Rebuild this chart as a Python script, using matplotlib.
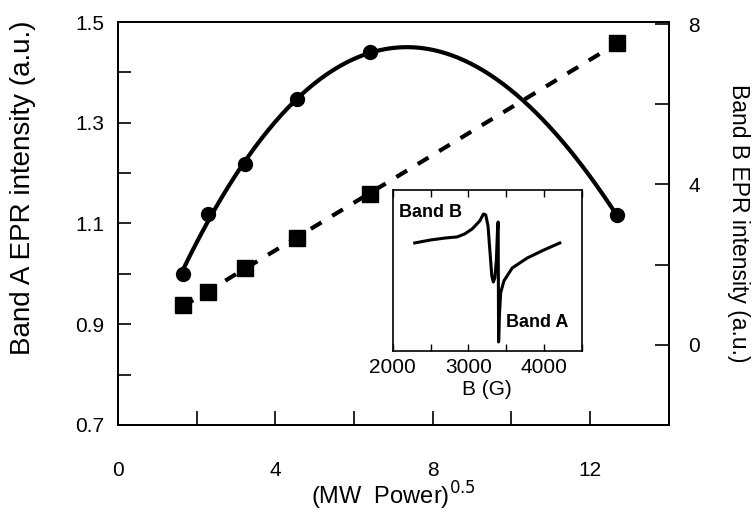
import numpy as np
import matplotlib
matplotlib.use("Agg")
import matplotlib.pyplot as plt

plt.rcParams['font.family'] = ['Liberation Sans', 'DejaVu Sans']

# data
power = [1.64, 2.3, 3.24, 4.55, 6.41, 12.68]          # (MW power)^0.5
band_a = [1.0, 1.119, 1.218, 1.347, 1.44, 1.116]      # left axis
band_b = [0.99, 1.32, 1.92, 2.67, 3.76, 7.53]         # right axis

# inset EPR spectrum (field in G, arbitrary intensity)
field = [2290, 2500, 2700, 2850, 2950, 3050, 3150, 3200, 3230, 3260, 3290,
         3310, 3330, 3350, 3370, 3385, 3394, 3400, 3410, 3427, 3470, 3580,
         3780, 4000, 4210]
signal = [10.8, 11.1, 11.3, 11.4, 11.7, 12.2, 13.0, 13.7, 13.6, 12.5, 9.5,
          7.5, 6.9, 7.3, 9.0, 12.0, 12.9, 0.9, 3.5, 5.8, 7.0, 8.3,
          9.3, 10.1, 10.8]

fig = plt.figure(figsize=(7.54, 5.12), dpi=100)
ax = fig.add_axes([0.1565, 0.170, 0.7305, 0.787])
ax2 = ax.twinx()

# smooth curve through band A points
pa = np.polyfit(power, band_a, 3)
xs = np.linspace(power[0], power[-1], 200)
ax.plot(xs, np.polyval(pa, xs), color='black', lw=3)
ax.plot(power, band_a, 'o', color='black', ms=10)

# linear fit for band B
pb = np.polyfit(power, band_b, 1)
xl = np.array([power[0], power[-1]])
ax2.plot(xl, np.polyval(pb, xl), color='black', lw=3, linestyle=(0, (3, 3)),
         dash_capstyle='butt')
ax2.plot(power, band_b, 's', color='black', ms=11)

ax.set_xlim(0, 14)
ax.set_ylim(0.7, 1.5)
ax2.set_ylim(-2, 8.05)

ax.set_xticks(np.arange(0, 15, 2))
ax.set_xticklabels(['0', '', '4', '', '8', '', '12', ''])
ax.set_yticks(np.arange(0.7, 1.51, 0.1))
ax.set_yticklabels(['0.7', '', '0.9', '', '1.1', '', '1.3', '', '1.5'])
ax2.set_yticks([-2, 0, 2, 4, 6, 8])
ax2.set_yticklabels(['', '0', '', '4', '', '8'])

ax.tick_params(axis='x', direction='in', length=10, width=1.2, pad=26,
               labelsize=15, top=False)
ax.tick_params(axis='y', direction='in', length=9, width=1.2, pad=10,
               labelsize=15)
ax2.tick_params(axis='y', direction='in', length=10, width=1.2, pad=14,
                labelsize=15)
for a in (ax, ax2):
    for s in a.spines.values():
        s.set_linewidth(1.4)

ax.set_xlabel('(MW  Power)$^{0.5}$', fontsize=17)
ax.xaxis.set_label_coords(0.5, -0.135)
ax.set_ylabel('Band A EPR intensity (a.u.)', fontsize=20)
ax.yaxis.set_label_coords(-0.148, 0.589)
ax2.set_ylabel('Band B EPR intensity (a.u.)', fontsize=16.5, rotation=-90,
               labelpad=36)

# inset
ins = fig.add_axes([0.521, 0.3145, 0.2505, 0.3145])
ins.plot(field, signal, color='black', lw=2.2)
ins.set_xlim(2000, 4500)
ins.set_ylim(0, 16.1)
ins.set_xticks([2000, 2500, 3000, 3500, 4000, 4500])
ins.set_xticklabels(['2000', '', '3000', '', '4000', ''])
ins.set_yticks([])
ins.tick_params(axis='x', direction='in', length=5, width=1.0, pad=5,
                labelsize=15, top=True)
for s in ins.spines.values():
    s.set_linewidth(1.2)
ins.set_xlabel('B (G)', fontsize=15, labelpad=2)
ins.text(2075, 13.8, 'Band B', fontsize=13, fontweight='bold', va='center')
ins.text(3500, 2.8, 'Band A', fontsize=13, fontweight='bold', va='center')

fig.savefig('out.png', dpi=100)
